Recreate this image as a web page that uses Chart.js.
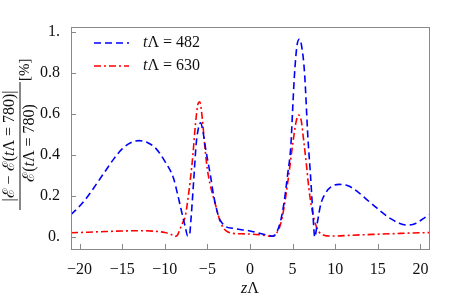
<!DOCTYPE html>
<html>
<head>
<meta charset="utf-8">
<script src="https://cdn.jsdelivr.net/npm/chart.js@4.4.1/dist/chart.umd.min.js"></script>
<style>
  body { margin: 0; background: #fff; }
</style>
</head>
<body>
<canvas id="chart" width="457" height="306"></canvas>
<script>
// curve for tΛ = 482 (blue, dashed)
const zBlue = [-21, -20, -19, -18, -17, -16, -15, -14, -13, -12, -11, -10, -9, -8.5, -8, -7.6, -7.3, -7.1,
  -6.9, -6.6, -6.3, -6.0, -5.8, -5.5, -5.2, -4.9, -4.6, -4.3, -4, -3.6, -3.2, -2.8, -2, -1, 0, 1, 2, 2.7,
  3.2, 3.6, 4, 4.4, 4.8, 5.0, 5.2, 5.5, 5.8, 6.1, 6.4, 6.8, 7.1, 7.4, 7.6, 7.9, 8.3, 8.8, 9.5, 10.5,
  11.5, 12.5, 13.5, 14.5, 15.5, 16.5, 17.5, 18.5, 19.5, 20.5, 21];
const eBlue = [0.11, 0.15, 0.20, 0.26, 0.32, 0.38, 0.43, 0.46, 0.47, 0.46, 0.43, 0.37, 0.29, 0.21, 0.12, 0.05, 0.005, 0.01,
  0.10, 0.28, 0.46, 0.54, 0.557, 0.51, 0.43, 0.36, 0.29, 0.21, 0.15, 0.09, 0.065, 0.05, 0.043, 0.036, 0.03, 0.02, 0.01, 0.004,
  0.03, 0.08, 0.17, 0.30, 0.45, 0.62, 0.78, 0.93, 0.965, 0.92, 0.80, 0.48, 0.30, 0.10, 0.0, 0.07, 0.16, 0.21, 0.245, 0.257,
  0.25, 0.225, 0.19, 0.155, 0.12, 0.09, 0.068, 0.058, 0.068, 0.095, 0.11];

// curve for tΛ = 630 (red, dash-dot)
const zRed = [-21, -19, -17, -15, -13, -11, -10, -9.3, -8.8, -8.5, -8.2, -7.9, -7.6, -7.3, -7, -6.7, -6.4, -6.1,
  -5.9, -5.6, -5.3, -5, -4.7, -4.4, -4, -3.6, -3.2, -2.8, -2, -1, 0, 1, 2, 2.5, 3, 3.4, 3.8, 4.2, 4.6, 5, 5.4,
  5.7, 6, 6.3, 6.6, 6.9, 7.2, 7.5, 7.8, 8.1, 8.5, 9, 10, 11, 13, 15, 17, 19, 21];
const eRed = [0.021, 0.024, 0.027, 0.030, 0.031, 0.028, 0.022, 0.014, 0.003, 0.01, 0.04, 0.07, 0.10, 0.18, 0.28, 0.40, 0.55, 0.65,
  0.66, 0.58, 0.44, 0.33, 0.26, 0.21, 0.15, 0.09, 0.05, 0.03, 0.018, 0.016, 0.015, 0.012, 0.006, 0.004, 0.015, 0.04, 0.10, 0.20, 0.32, 0.45, 0.56,
  0.595, 0.57, 0.47, 0.36, 0.24, 0.15, 0.09, 0.05, 0.025, 0.012, 0.006, 0.005, 0.007, 0.011, 0.014, 0.017, 0.02, 0.022];

const seriesTimes = ['482', '630'];
const xTicks = [-20, -15, -10, -5, 0, 5, 10, 15, 20];
const yTicks = [0, 0.2, 0.4, 0.6, 0.8, 1];

const SERIF = '"Liberation Serif", "DejaVu Serif", serif';

function toPoints(xs, ys) {
  return xs.map((x, i) => ({ x: x, y: ys[i] }));
}

// draws text made of [string, italic] pieces
function drawRich(ctx, parts, x, y, size, align) {
  let total = 0;
  parts.forEach(p => {
    ctx.font = (p[1] ? 'italic ' : '') + size + 'px ' + SERIF;
    total += ctx.measureText(p[0]).width;
  });
  let cx = align === 'center' ? x - total / 2 : x;
  parts.forEach(p => {
    ctx.font = (p[1] ? 'italic ' : '') + size + 'px ' + SERIF;
    ctx.textAlign = 'left';
    ctx.fillText(p[0], cx, y);
    cx += ctx.measureText(p[0]).width;
  });
}

const decorations = {
  id: 'decorations',
  afterDraw(chart) {
    const ctx = chart.ctx;
    const a = chart.chartArea;
    const xs = chart.scales.x, ys = chart.scales.y;
    ctx.save();

    // frame
    ctx.strokeStyle = '#888';
    ctx.lineWidth = 1;
    ctx.strokeRect(Math.round(a.left) + 0.5, Math.round(a.top) + 0.5,
      Math.round(a.right - a.left), Math.round(a.bottom - a.top));

    // inside ticks
    ctx.beginPath();
    xTicks.forEach(v => {
      const px = Math.round(xs.getPixelForValue(v)) + 0.5;
      ctx.moveTo(px, a.bottom);
      ctx.lineTo(px, a.bottom - 5);
    });
    yTicks.forEach(v => {
      const py = Math.round(ys.getPixelForValue(v)) + 0.5;
      ctx.moveTo(a.left, py);
      ctx.lineTo(a.left + 5, py);
    });
    ctx.stroke();

    ctx.fillStyle = '#111';
    ctx.textBaseline = 'middle';

    // legend
    chart.data.datasets.forEach((ds, i) => {
      const y = 43 + i * 23;
      ctx.strokeStyle = ds.borderColor;
      ctx.lineWidth = ds.borderWidth;
      ctx.setLineDash(ds.borderDash);
      ctx.beginPath();
      ctx.moveTo(94, y);
      ctx.lineTo(129, y);
      ctx.stroke();
      ctx.setLineDash([]);
      drawRich(ctx, [['t', true], ['\u039B = ' + seriesTimes[i], false]], 143, y, 16, 'left');
    });

    // x axis title
    drawRich(ctx, [['z', true], ['\u039B', false]], 250, 289, 16, 'center');

    // y axis title: fraction, rotated
    ctx.translate(20, 146);
    ctx.rotate(-Math.PI / 2);
    drawRich(ctx, [['|\u2130 \u2212 \u2130(', false], ['t', true], ['\u039B = 780)|', false]], 0, -10, 16, 'center');
    drawRich(ctx, [['\u2130(', false], ['t', true], ['\u039B = 780)', false]], 3, 10, 16, 'center');
    ctx.strokeStyle = '#111';
    ctx.lineWidth = 1;
    ctx.beginPath();
    ctx.moveTo(-64, 0);
    ctx.lineTo(64, 0);
    ctx.stroke();
    drawRich(ctx, [['[%]', false]], 65, 5, 15, 'left');

    ctx.restore();
  }
};

new Chart(document.getElementById('chart'), {
  type: 'line',
  data: {
    datasets: [
      {
        label: 't\u039B = ' + seriesTimes[0],
        data: toPoints(zBlue, eBlue),
        borderColor: 'rgb(0,0,255)',
        borderWidth: 1.6,
        borderDash: [7, 4],
        pointRadius: 0,
        fill: false,
        cubicInterpolationMode: 'monotone'
      },
      {
        label: 't\u039B = ' + seriesTimes[1],
        data: toPoints(zRed, eRed),
        borderColor: 'rgb(255,0,0)',
        borderWidth: 1.6,
        borderDash: [7, 3, 2, 3],
        pointRadius: 0,
        fill: false,
        cubicInterpolationMode: 'monotone'
      }
    ]
  },
  options: {
    responsive: false,
    animation: false,
    layout: { padding: { top: 27, right: 28, left: 0, bottom: 0 } },
    plugins: {
      legend: { display: false },
      tooltip: { enabled: false }
    },
    scales: {
      x: {
        type: 'linear',
        min: -21,
        max: 21,
        grid: { display: false },
        border: { display: false },
        afterBuildTicks: s => { s.ticks = xTicks.map(v => ({ value: v })); },
        afterFit: s => { s.height = 57; },
        ticks: {
          autoSkip: false,
          maxRotation: 0,
          padding: 3,
          color: '#111',
          font: { family: SERIF, size: 16 },
          callback: v => v < 0 ? '\u2212' + Math.abs(v) : String(v)
        }
      },
      y: {
        type: 'linear',
        min: -0.058,
        max: 1.024,
        grid: { display: false },
        border: { display: false },
        afterBuildTicks: s => { s.ticks = yTicks.map(v => ({ value: v })); },
        afterFit: s => { s.width = 71; },
        ticks: {
          autoSkip: false,
          padding: 3,
          color: '#111',
          font: { family: SERIF, size: 16 },
          callback: v => v === 0 ? '0.' : (v === 1 ? '1.' : v.toFixed(1))
        }
      }
    }
  },
  plugins: [decorations]
});
</script>
</body>
</html>
